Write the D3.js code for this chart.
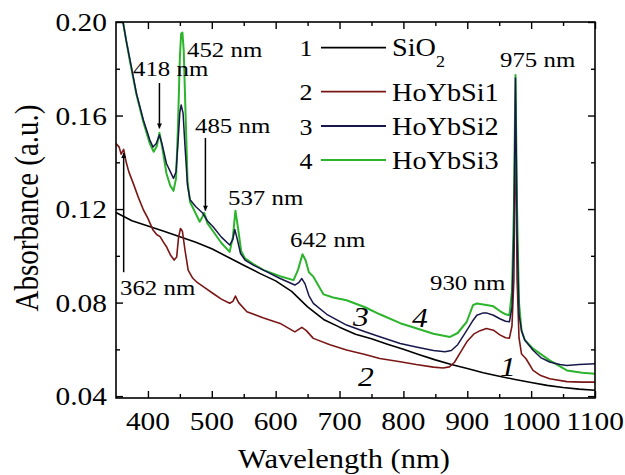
<!DOCTYPE html>
<html><head><meta charset="utf-8">
<script src="https://cdn.jsdelivr.net/npm/d3@7"></script>
<style>html,body{margin:0;padding:0;background:#fff;}svg{display:block;}
svg text{font-family:"Liberation Serif","Times New Roman","DejaVu Serif",serif;}</style>
</head><body>
<script>
// ---------------- DATA ----------------
const seriesNames = ["SiO2", "HoYbSi1", "HoYbSi2", "HoYbSi3"];
const seriesNumbers = ["1", "2", "3", "4"];

const wlSiO2 = [350,375,400,425,450,475,500,525,550,575,600,625,650,675,700,725,750,775,800,825,850,875,900,925,950,975,1000,1025,1050,1075,1100];
const absSiO2 = [0.1185,0.1150,0.1128,0.1105,0.1082,0.1058,0.1030,0.0995,0.0960,0.0925,0.0893,0.0848,0.0782,0.0728,0.0695,0.0665,0.0645,0.0622,0.0600,0.0577,0.0555,0.0535,0.0518,0.0500,0.0485,0.0471,0.0458,0.0446,0.0437,0.0430,0.0425];

const wlHoYbSi1 = [350,355,358,362,366,370,377,385,393,400,408,414,419,424,429,435,441,445,448,451,454,458,463,470,476,490,502,515,528,533,537,542,555,580,607,630,641,648,659,685,711,740,763,795,820,847,862,872,880,890,900,910,920,930,941,951,960,966,970,973,975.5,978,981,985,992,1003,1015,1029,1056,1080,1100];
const absHoYbSi1 = [0.1480,0.1465,0.1435,0.1455,0.1400,0.1360,0.1310,0.1250,0.1196,0.1160,0.1110,0.1090,0.1082,0.1060,0.1039,0.1005,0.0982,0.0995,0.1080,0.1117,0.1105,0.1025,0.0939,0.0905,0.0889,0.0862,0.0839,0.0815,0.0797,0.0805,0.0828,0.0800,0.0761,0.0735,0.0711,0.0675,0.0694,0.0680,0.0647,0.0620,0.0597,0.0578,0.0561,0.0547,0.0535,0.0524,0.0520,0.0525,0.0545,0.0590,0.0635,0.0665,0.0680,0.0689,0.0682,0.0662,0.0650,0.0648,0.0700,0.0900,0.1650,0.0900,0.0650,0.0580,0.0560,0.0510,0.0488,0.0474,0.0462,0.0460,0.0460];

const wlHoYbSi2 = [350,355,361,366,372,382,393,403,408,413,418,422,429,435,440,444,447,450,452,455,458,462,466,475,481,486,493,502,515,528,533,536,540,545,552,565,581,607,630,636,641,646,652,659,680,711,740,763,795,820,847,865,875,885,899,908,915,925,930,941,951,960,966,970,973,975.5,978,981,985,990,1003,1015,1029,1045,1056,1075,1100];
const absHoYbSi2 = [0.2300,0.2150,0.2000,0.1920,0.1837,0.1695,0.1580,0.1495,0.1465,0.1480,0.1517,0.1480,0.1395,0.1360,0.1331,0.1360,0.1480,0.1615,0.1645,0.1610,0.1470,0.1300,0.1240,0.1210,0.1195,0.1182,0.1150,0.1124,0.1080,0.1046,0.1070,0.1113,0.1070,0.1010,0.0982,0.0960,0.0939,0.0903,0.0875,0.0885,0.0903,0.0880,0.0830,0.0797,0.0750,0.0704,0.0675,0.0654,0.0625,0.0610,0.0595,0.0590,0.0595,0.0620,0.0680,0.0720,0.0746,0.0756,0.0756,0.0746,0.0731,0.0720,0.0718,0.0780,0.1100,0.1760,0.1100,0.0750,0.0680,0.0640,0.0596,0.0565,0.0546,0.0535,0.0531,0.0535,0.0539];

const wlHoYbSi3 = [350,355,361,366,372,382,393,403,409,414,418,422,429,435,440,444,447,450,452,454,456,459,462,466,475,481,485,488,493,502,515,528,533,537,541,546,552,565,581,607,628,635,642,647,652,659,675,690,711,740,763,795,820,847,873,885,899,909,915,930,941,951,960,966,970,973,975.5,978,981,985,990,1003,1029,1056,1080,1100];
const absHoYbSi3 = [0.2300,0.2150,0.2000,0.1920,0.1830,0.1690,0.1570,0.1480,0.1445,0.1470,0.1526,0.1470,0.1352,0.1300,0.1278,0.1330,0.1550,0.1850,0.1950,0.1955,0.1880,0.1600,0.1320,0.1230,0.1180,0.1146,0.1165,0.1184,0.1140,0.1105,0.1055,0.1017,0.1080,0.1193,0.1120,0.1020,0.0989,0.0965,0.0939,0.0913,0.0896,0.0940,0.1007,0.0980,0.0930,0.0911,0.0835,0.0822,0.0810,0.0780,0.0750,0.0712,0.0690,0.0667,0.0653,0.0670,0.0717,0.0789,0.0796,0.0790,0.0784,0.0764,0.0750,0.0746,0.0850,0.1200,0.1773,0.1200,0.0800,0.0680,0.0640,0.0603,0.0553,0.0510,0.0500,0.0496];

const xMajorTicks = [400,500,600,700,800,900,1000,1100];
const xMinorTicks = [450,550,650,750,850,950,1050];
const yMajorTicks = [0.04,0.08,0.12,0.16,0.20];
const yMinorTicks = [0.06,0.10,0.14,0.18];
const yTickLabels = ["0.04","0.08","0.12","0.16","0.20"];
const xTickLabels = ["400","500","600","700","800","900","1000","1100"];

// peak annotations: wavelength label text
const peakLabels = ["418 nm","452 nm","485 nm","537 nm","642 nm","930 nm","975 nm","362 nm"];

// ---------------- LAYOUT ----------------
const W = 625, H = 475;
const M = {left:116, right:595, top:22, bottom:398};
const SX = 1.13; // horizontal glyph stretch of the original
const colors = ["#000000", "#7b1616", "#17174a", "#2cb52c"];

const svg = d3.select("body").append("svg").attr("width", W).attr("height", H);

const x = d3.scaleLinear().domain([350, 1100]).range([M.left, M.right]);
const y = d3.scaleLinear().domain([0.0392, 0.20]).range([M.bottom, M.top]);

function txt(xp, yp, s, size, anchor, extra) {
  const t = svg.append("text")
    .attr("transform", `translate(${xp},${yp}) scale(${SX},1)`)
    .attr("font-size", size)
    .attr("text-anchor", anchor || "start")
    .attr("fill", "#000");
  if (extra && extra.italic) t.attr("font-style", "italic");
  t.text(s);
  return t;
}

svg.append("defs").append("clipPath").attr("id", "clip")
  .append("rect").attr("x", M.left).attr("y", M.top)
  .attr("width", M.right - M.left).attr("height", M.bottom - M.top);
svg.select("defs").append("marker").attr("id", "arr")
  .attr("viewBox", "0 0 10 10").attr("refX", 10).attr("refY", 5)
  .attr("markerWidth", 7).attr("markerHeight", 5).attr("markerUnits", "userSpaceOnUse")
  .attr("orient", "auto")
  .append("path").attr("d", "M0,0 L10,5 L0,10 Z").attr("fill", "#000");

// ---------------- SERIES ----------------
const wls = [wlSiO2, wlHoYbSi1, wlHoYbSi3, wlHoYbSi2];
const abss = [absSiO2, absHoYbSi1, absHoYbSi3, absHoYbSi2];
const cols = [colors[0], colors[1], colors[3], colors[2]];
const widths = [1.6, 1.6, 2.0, 1.5];
const line = d3.line().x(d => x(d[0])).y(d => y(d[1]));
const gLines = svg.append("g").attr("clip-path", "url(#clip)");
wls.forEach((w, i) => {
  const pts = w.map((v, j) => [v, abss[i][j]]);
  gLines.append("path").attr("d", line(pts)).attr("fill", "none")
    .attr("stroke", cols[i]).attr("stroke-width", widths[i]).attr("stroke-linejoin", "round");
});

// ---------------- AXES ----------------
const axisStyle = g => { g.select(".domain").remove(); g.selectAll("line").attr("stroke", "#000").attr("stroke-width", 1.4); };
svg.append("g").attr("transform", `translate(0,${M.bottom})`)
  .call(d3.axisBottom(x).tickValues(xMajorTicks).tickSize(-7).tickFormat("")).call(axisStyle);
svg.append("g").attr("transform", `translate(0,${M.bottom})`)
  .call(d3.axisBottom(x).tickValues(xMinorTicks).tickSize(-4).tickFormat("")).call(axisStyle);
svg.append("g").attr("transform", `translate(0,${M.top})`)
  .call(d3.axisTop(x).tickValues(xMajorTicks).tickSize(-7).tickFormat("")).call(axisStyle);
svg.append("g").attr("transform", `translate(0,${M.top})`)
  .call(d3.axisTop(x).tickValues(xMinorTicks).tickSize(-4).tickFormat("")).call(axisStyle);
svg.append("g").attr("transform", `translate(${M.left},0)`)
  .call(d3.axisLeft(y).tickValues(yMajorTicks).tickSize(-7).tickFormat("")).call(axisStyle);
svg.append("g").attr("transform", `translate(${M.left},0)`)
  .call(d3.axisLeft(y).tickValues(yMinorTicks).tickSize(-4).tickFormat("")).call(axisStyle);
svg.append("g").attr("transform", `translate(${M.right},0)`)
  .call(d3.axisRight(y).tickValues(yMajorTicks).tickSize(-7).tickFormat("")).call(axisStyle);
svg.append("g").attr("transform", `translate(${M.right},0)`)
  .call(d3.axisRight(y).tickValues(yMinorTicks).tickSize(-4).tickFormat("")).call(axisStyle);
svg.append("rect").attr("x", M.left).attr("y", M.top)
  .attr("width", M.right - M.left).attr("height", M.bottom - M.top)
  .attr("fill", "none").attr("stroke", "#000").attr("stroke-width", 1.6);

yMajorTicks.forEach((t, i) => txt(M.left - 9, y(t) + 9, yTickLabels[i], 26, "end"));
xMajorTicks.forEach((t, i) => txt(x(t), 430, xTickLabels[i], 26, "middle"));

txt(344, 468, "Wavelength (nm)", 27, "middle");
svg.append("text")
  .attr("transform", `translate(38,208) scale(${SX},1) rotate(-90)`)
  .attr("font-size", 29).attr("text-anchor", "middle").text("Absorbance (a.u.)");

// ---------------- LEGEND ----------------
const legendRowsY = [47.7, 91.7, 126, 160];
seriesNames.forEach((n, i) => {
  const ly = legendRowsY[i];
  txt(306, ly + 8.5, seriesNumbers[i], 23, "middle");
  svg.append("line").attr("x1", 321).attr("x2", 386).attr("y1", ly).attr("y2", ly)
    .attr("stroke", colors[i]).attr("stroke-width", 1.8);
  if (n === "SiO2") {
    const t = txt(392, ly + 8, "", 25, "start");
    t.append("tspan").text("SiO");
    t.append("tspan").attr("font-size", 16).attr("dy", 11).text("2");
  } else {
    txt(392, ly + 9, n, 25, "start");
  }
});

// ---------------- ANNOTATIONS ----------------
// [label index, x-left(px), baseline(px)]
const annPos = [[0,133,76],[1,187,57],[2,195,133],[3,228,205],[4,290,247],[5,430,290],[6,500,67],[7,120,295]];
annPos.forEach(a => txt(a[1], a[2], peakLabels[a[0]], 22, "start"));

// arrows: [wavelength, from value, to value]
const arrows = [[418, 0.1739, 0.1545], [490, 0.1504, 0.1193], [362, 0.0930, 0.1440]];
arrows.forEach(a => {
  svg.append("line").attr("x1", x(a[0])).attr("x2", x(a[0]))
    .attr("y1", y(a[1])).attr("y2", y(a[2]))
    .attr("stroke", "#000").attr("stroke-width", 1.5).attr("marker-end", "url(#arr)");
});

// curve numbers (italic)
const curveLabelPos = [[508,376],[366,386],[361,326],[420,327]];
curveLabelPos.forEach((p, i) => txt(p[0], p[1], seriesNumbers[i], 28, "middle", {italic:true}));
</script>
</body></html>
